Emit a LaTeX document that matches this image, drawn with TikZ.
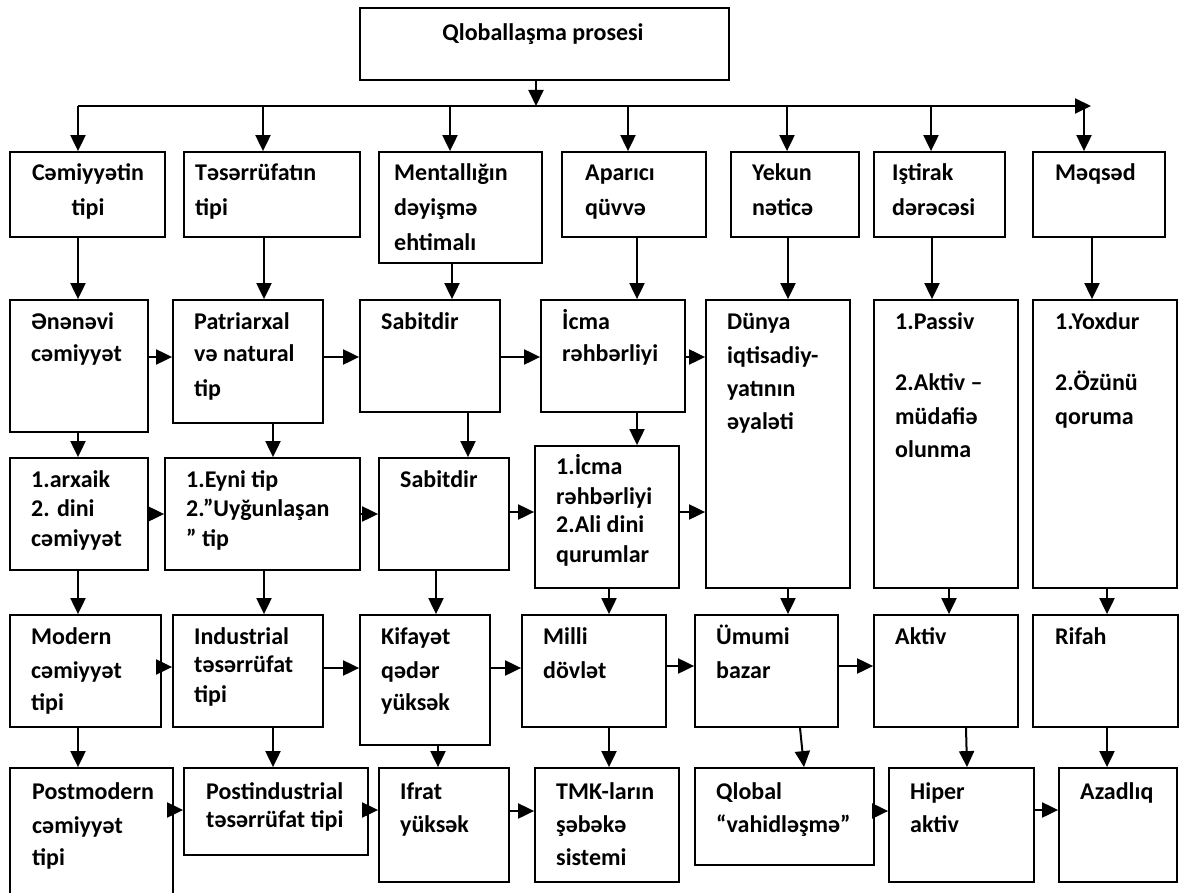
\documentclass[tikz,border=0pt]{standalone}
\usepackage{fontspec}
\setmainfont{Carlito}
\usetikzlibrary{arrows.meta,fit}
\begin{document}
\begin{tikzpicture}[x=1pt,y=-1pt,
  box/.style={draw, line width=1.8pt, inner sep=0pt},
  txt/.style={anchor=mid west, inner sep=0pt, font=\fontsize{24}{29}\selectfont\bfseries},
  ctxt/.style={txt, anchor=mid},
  arr/.style={line width=2pt, -{Triangle[length=16pt,width=15pt]}}]
\useasboundingbox (0,0) rectangle (1180,893);
\fill[white] (0,0) rectangle (1180,893);

% ---------- boxes ----------
\node[box, fit={(360,8) (729,80)}] (top) {};
\node[box, fit={(10,152) (165,237)}] (b11) {};
\node[box, fit={(184,152) (360,237)}] (b12) {};
\node[box, fit={(379,152) (542,263)}] (b13) {};
\node[box, fit={(562,152) (706,237)}] (b14) {};
\node[box, fit={(731,152) (859,237)}] (b15) {};
\node[box, fit={(874,152) (1005,237)}] (b16) {};
\node[box, fit={(1033,152) (1165,237)}] (b17) {};

\node[box, fit={(10,300) (148,432)}] (b21) {};
\node[box, fit={(173,300) (323,423)}] (b22) {};
\node[box, fit={(360,300) (500,412)}] (b23) {};
\node[box, fit={(541,300) (685,412)}] (b24) {};
\node[box, fit={(706,300) (850,588)}] (b25) {};
\node[box, fit={(874,300) (1018,588)}] (b26) {};
\node[box, fit={(1033,300) (1177,588)}] (b27) {};

\node[box, fit={(10,458) (148,570)}] (b31) {};
\node[box, fit={(165,458) (360,570)}] (b32) {};
\node[box, fit={(379,458) (509,570)}] (b33) {};
\node[box, fit={(535,446) (679,588)}] (b34) {};

\node[box, fit={(10,615) (161,727)}] (b41) {};
\node[box, fit={(173,615) (323,727)}] (b42) {};
\node[box, fit={(360,615) (490,745)}] (b43) {};
\node[box, fit={(522,615) (666,727)}] (b44) {};
\node[box, fit={(695,615) (838,727)}] (b45) {};
\node[box, fit={(874,615) (1018,727)}] (b46) {};
\node[box, fit={(1033,615) (1178,727)}] (b47) {};

\node[box, fit={(10,768) (173,905)}] (b51) {};
\node[box, fit={(184,768) (368,855)}] (b52) {};
\node[box, fit={(379,768) (509,882)}] (b53) {};
\node[box, fit={(535,768) (679,882)}] (b54) {};
\node[box, fit={(695,768) (874,865)}] (b55) {};
\node[box, fit={(889,768) (1034,882)}] (b56) {};
\node[box, fit={(1059,768) (1177,882)}] (b57) {};

% ---------- texts ----------
\node[ctxt] (t0) at (543,38) {Qloballaşma prosesi};

\node[ctxt] (t11a) at (88,178) {Cəmiyyətin};
\node[ctxt] (t11b) at (88,213) {tipi};
\node[txt] (t12a) at (195,178) {Təsərrüfatın};
\node[txt] (t12b) at (195,213) {tipi};
\node[txt] (t13a) at (394,178) {Mentallığın};
\node[txt] (t13b) at (394,213) {dəyişmə};
\node[txt] (t13c) at (394,248) {ehtimalı};
\node[txt] (t14a) at (585,178) {Aparıcı};
\node[txt] (t14b) at (585,213) {qüvvə};
\node[txt] (t15a) at (752,178) {Yekun};
\node[txt] (t15b) at (752,213) {nəticə};
\node[txt] (t16a) at (892,178) {Iştirak};
\node[txt] (t16b) at (892,213) {dərəcəsi};
\node[txt] (t17a) at (1055,178) {Məqsəd};

\node[txt] (t21a) at (31,327) {Ənənəvi};
\node[txt] (t21b) at (31,359) {cəmiyyət};
\node[txt] (t22a) at (194,327) {Patriarxal};
\node[txt] (t22b) at (194,359) {və natural};
\node[txt] (t22c) at (194,394) {tip};
\node[txt] (t23a) at (381,327) {Sabitdir};
\node[txt] (t24a) at (562,327) {İcma};
\node[txt] (t24b) at (562,359) {rəhbərliyi};
\node[txt] (t25a) at (727,327) {Dünya};
\node[txt] (t25b) at (727,361) {iqtisadiy-};
\node[txt] (t25c) at (727,394) {yatının};
\node[txt] (t25d) at (727,427) {əyaləti};
\node[txt] (t26a) at (895,327) {1.Passiv};
\node[txt] (t26b) at (895,388) {2.Aktiv –};
\node[txt] (t26c) at (895,422) {müdafiə};
\node[txt] (t26d) at (895,455) {olunma};
\node[txt] (t27a) at (1055,327) {1.Yoxdur};
\node[txt] (t27b) at (1055,388) {2.Özünü};
\node[txt] (t27c) at (1055,422) {qoruma};

\node[txt] (t31a) at (31,485) {1.arxaik};
\node[txt] (t31b) at (31,514) {2. dini};
\node[txt] (t31c) at (31,544) {cəmiyyət};
\node[txt] (t32a) at (186,485) {1.Eyni tip};
\node[txt] (t32b) at (186,514) {2.”Uyğunlaşan};
\node[txt] (t32c) at (186,544) {” tip};
\node[txt] (t33a) at (400,485) {Sabitdir};
\node[txt] (t34a) at (556,472) {1.İcma};
\node[txt] (t34b) at (556,502) {rəhbərliyi};
\node[txt] (t34c) at (556,530) {2.Ali dini};
\node[txt] (t34d) at (556,560) {qurumlar};

\node[txt] (t41a) at (31,642) {Modern};
\node[txt] (t41b) at (31,676) {cəmiyyət};
\node[txt] (t41c) at (31,708) {tipi};
\node[txt] (t42a) at (194,642) {Industrial};
\node[txt] (t42b) at (194,670) {təsərrüfat};
\node[txt] (t42c) at (194,700) {tipi};
\node[txt] (t43a) at (381,642) {Kifayət};
\node[txt] (t43b) at (381,676) {qədər};
\node[txt] (t43c) at (381,708) {yüksək};
\node[txt] (t44a) at (543,642) {Milli};
\node[txt] (t44b) at (543,676) {dövlət};
\node[txt] (t45a) at (716,642) {Ümumi};
\node[txt] (t45b) at (716,676) {bazar};
\node[txt] (t46a) at (895,642) {Aktiv};
\node[txt] (t47a) at (1055,642) {Rifah};

\node[txt] (t51a) at (32,797) {Postmodern};
\node[txt] (t51b) at (32,831) {cəmiyyət};
\node[txt] (t51c) at (32,863) {tipi};
\node[txt] (t52a) at (206,797) {Postindustrial};
\node[txt] (t52b) at (206,825) {təsərrüfat tipi};
\node[txt] (t53a) at (400,797) {Ifrat};
\node[txt] (t53b) at (400,830) {yüksək};
\node[txt] (t54a) at (556,797) {TMK-ların};
\node[txt] (t54b) at (556,830) {şəbəkə};
\node[txt] (t54c) at (556,863) {sistemi};
\node[txt] (t55a) at (716,797) {Qlobal};
\node[txt] (t55b) at (716,830) {“vahidləşmə”};
\node[txt] (t56a) at (910,797) {Hiper};
\node[txt] (t56b) at (910,830) {aktiv};
\node[txt] (t57a) at (1080,797) {Azadlıq};

% ---------- connectors ----------
\coordinate (busL) at (78,106);
\coordinate (busR) at (1091,106);
\draw[arr] (536,0 |- top.south) -- (536,0 |- busL);
\draw[arr] (busL) -- (busR);
\foreach \x/\b in {78/b11,263/b12,450/b13,628/b14,787/b15,931/b16,1084/b17}
  \draw[arr] (\x,0 |- busL) -- (\x,0 |- \b.north);

% vertical arrows
\foreach \x/\a/\b in {78/b11/b21,264/b12/b22,452/b13/b23,637/b14/b24,788/b15/b25,932/b16/b26,1092/b17/b27,
  78/b21/b31,273/b22/b32,468/b23/b33,637/b24/b34,
  78/b31/b41,264/b32/b42,436/b33/b43,609/b34/b44,788/b25/b45,949/b26/b46,1107/b27/b47,
  78/b41/b51,273/b42/b52,438/b43/b53,609/b44/b54,1107/b47/b57}
  \draw[arr] (\x,0 |- \a.south) -- (\x,0 |- \b.north);
\draw[arr] (800,0 |- b45.south) -- (804,0 |- b55.north);
\draw[arr] (966,0 |- b46.south) -- (967,0 |- b56.north);

% horizontal arrows
\foreach \y/\a/\b in {357/b21/b22,357/b22/b23,357/b23/b24,357/b24/b25,
  514/b31/b32,514/b32/b33,512/b33/b34,512/b34/b25,
  667/b41/b42,668/b42/b43,668/b43/b44,666/b44/b45,666/b45/b46,
  810/b51/b52,810/b52/b53,811/b53/b54,811/b55/b56,810/b56/b57}
  \draw[arr] (\a.east |- 0,\y) -- (\b.west |- 0,\y);
\end{tikzpicture}
\end{document}
